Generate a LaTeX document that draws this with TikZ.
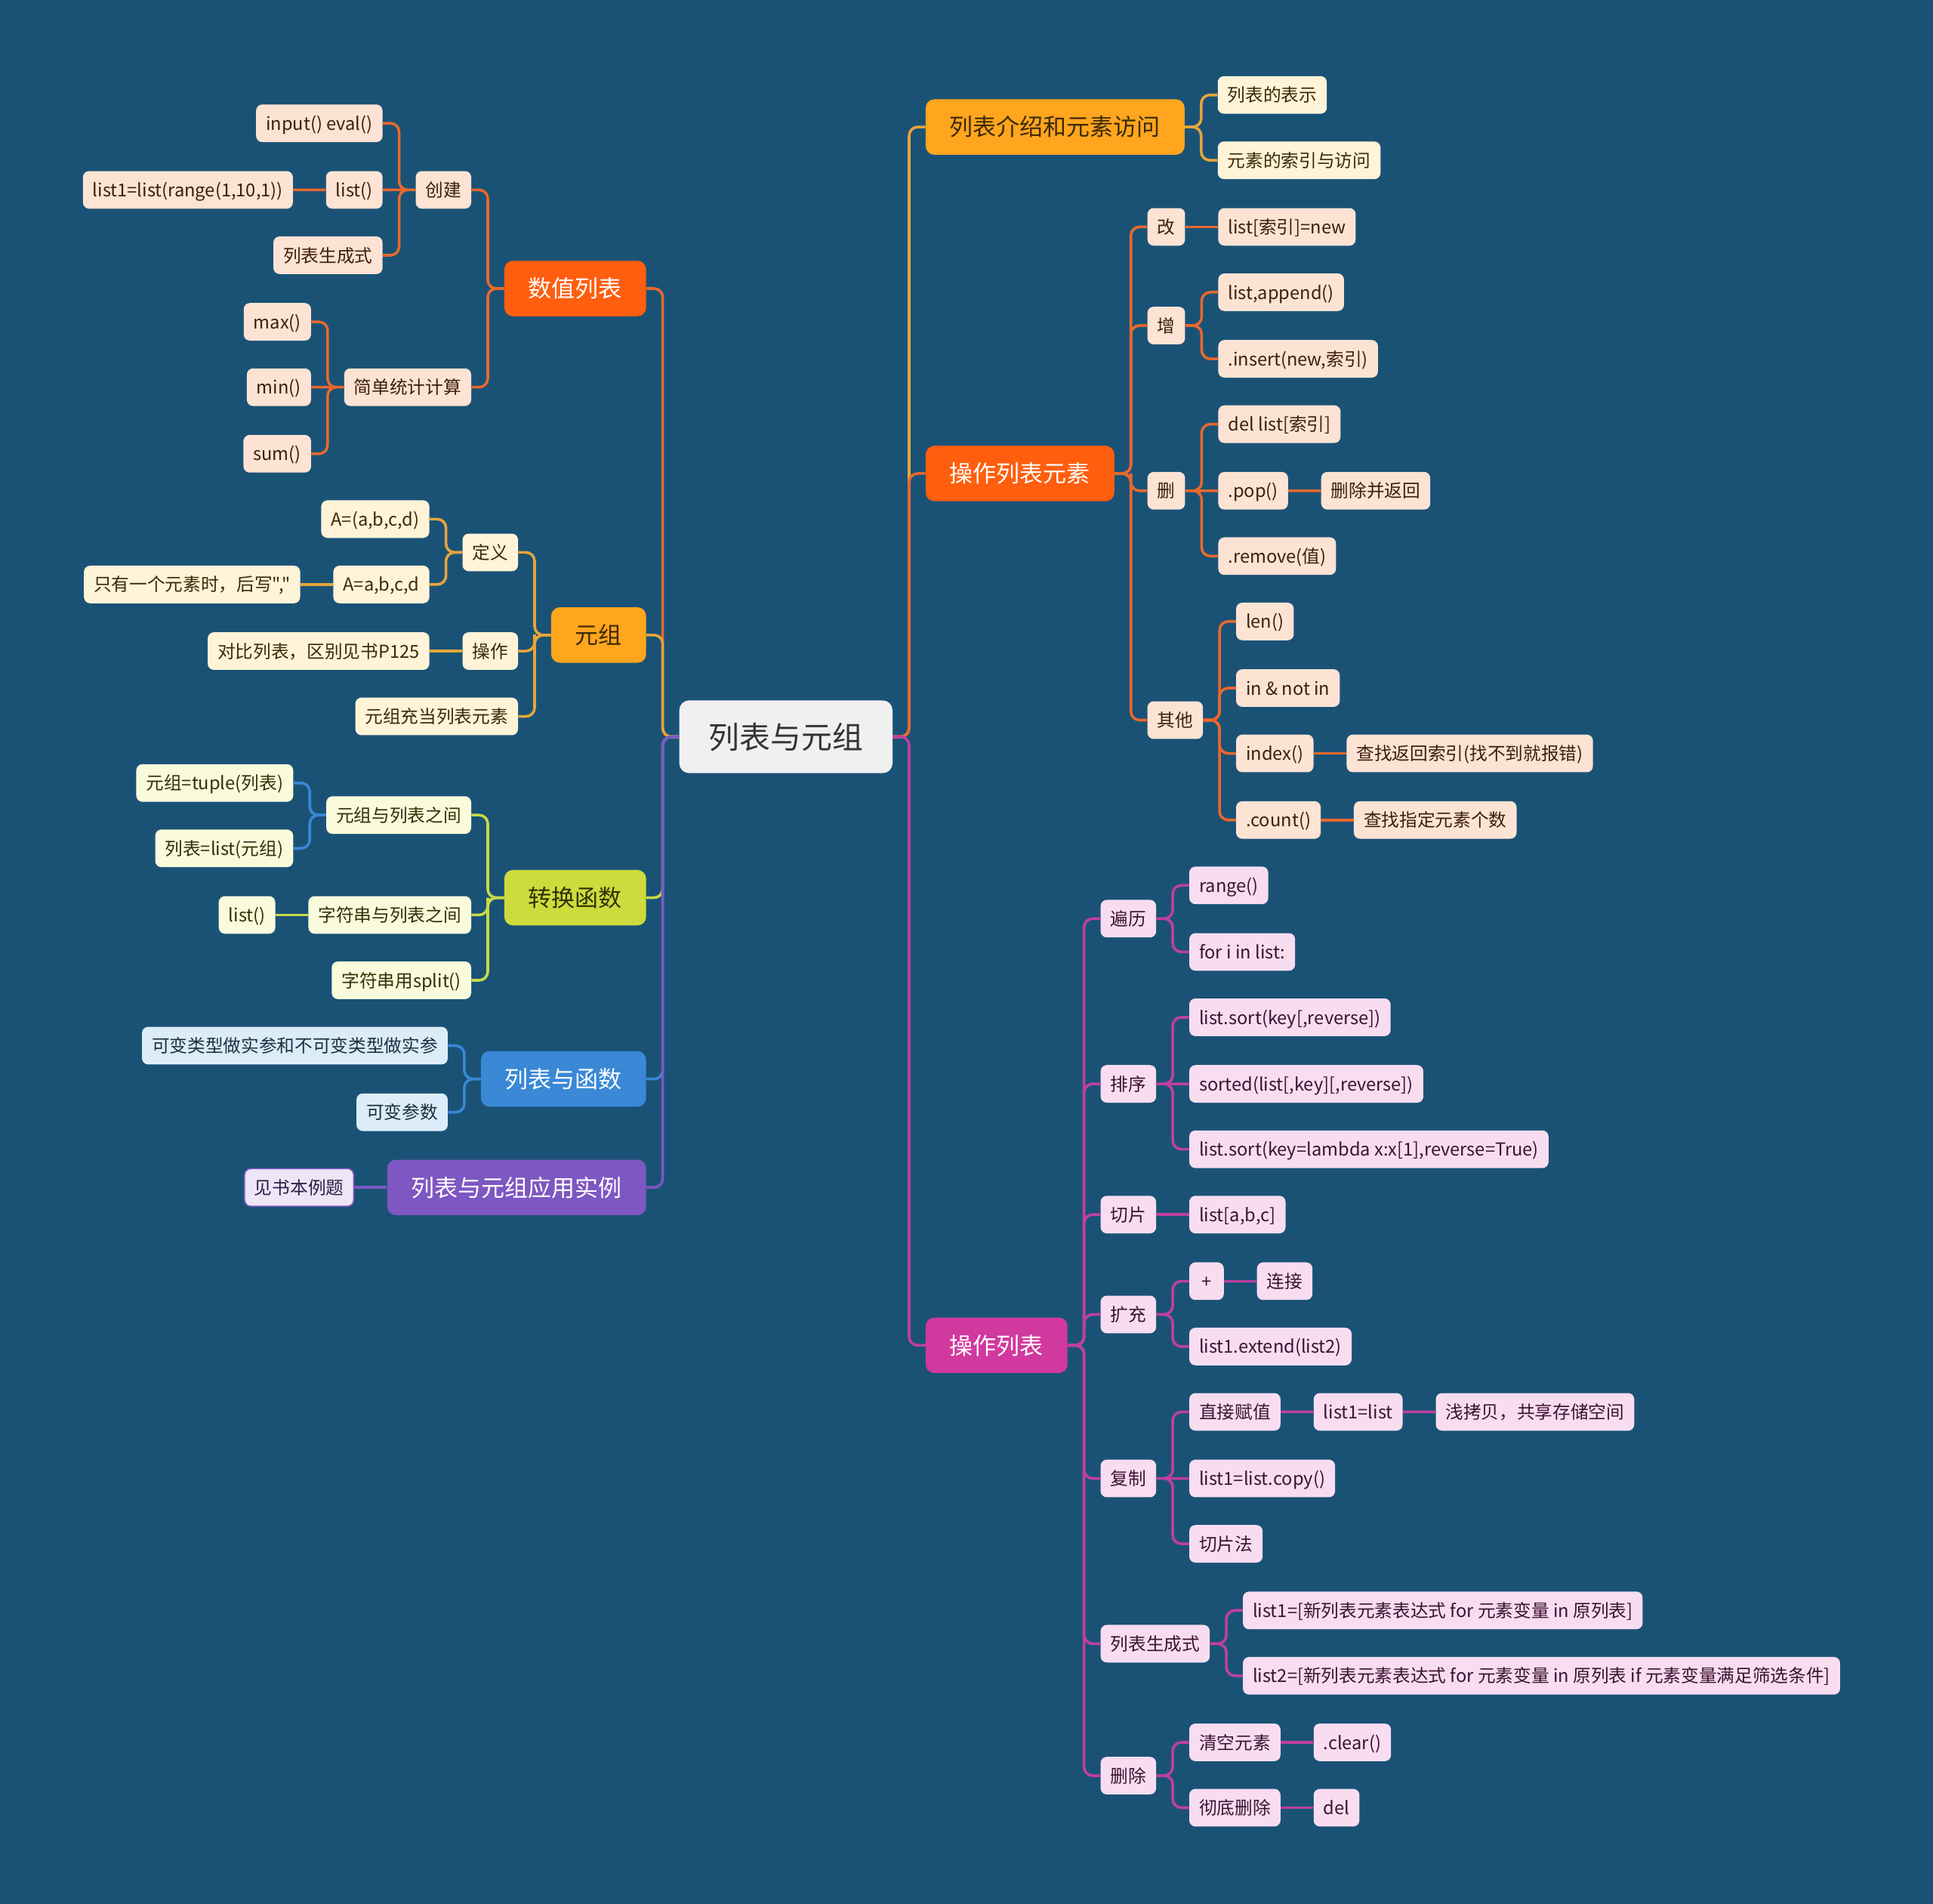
\documentclass[tikz,border=0pt]{standalone}
\usepackage{fontspec}
\setmainfont{Noto Sans CJK SC}[Ligatures=TeXOff]
\usetikzlibrary{calc,positioning}

\definecolor{bgc}{HTML}{1A5276}
\definecolor{rootc}{HTML}{F0F0F0}
\definecolor{rootx}{HTML}{333333}
% topic fills
\definecolor{topO}{HTML}{FF5E0E}
\definecolor{topA}{HTML}{FFA51E}
\definecolor{topL}{HTML}{CDDB3C}
\definecolor{topB}{HTML}{3A88D6}
\definecolor{topP}{HTML}{7E57C2}
\definecolor{topM}{HTML}{D1399F}
% connector colours
\definecolor{lnO}{HTML}{E8682E}
\definecolor{lnA}{HTML}{E6A53A}
\definecolor{lnL}{HTML}{C8DA46}
\definecolor{lnB}{HTML}{3A88D6}
\definecolor{lnP}{HTML}{7E57C2}
\definecolor{lnM}{HTML}{C03FA0}
% leaf fills and texts
\definecolor{fO}{HTML}{FDE3D3}
\definecolor{fA}{HTML}{FFF3D8}
\definecolor{fL}{HTML}{FAFBDC}
\definecolor{fB}{HTML}{DCEDF9}
\definecolor{fP}{HTML}{EEE6F7}
\definecolor{fM}{HTML}{F8DDF1}
\definecolor{xO}{HTML}{3D1F0E}
\definecolor{xA}{HTML}{3B2A06}
\definecolor{xL}{HTML}{2E3304}
\definecolor{xB}{HTML}{1E2F3F}
\definecolor{xP}{HTML}{2D1F45}
\definecolor{xM}{HTML}{3D1232}

\newcommand\leaffont{\fontsize{14.5pt}{17pt}\selectfont}
\newcommand\topicfont{\fontsize{19pt}{22pt}\selectfont}
\newcommand\rootfont{\fontsize{25pt}{30pt}\selectfont}

\begin{document}
\begin{tikzpicture}[
    x=1pt,y=-1pt,
    node distance=26.5pt,
    leaf/.style={rounded corners=5pt,inner xsep=8pt,inner ysep=0pt,
        minimum height=30.5pt,text height=12.8pt,text depth=1.7pt,font=\leaffont},
    lfO/.style={leaf,fill=fO,text=xO},
    lfA/.style={leaf,fill=fA,text=xA},
    lfL/.style={leaf,fill=fL,text=xL},
    lfB/.style={leaf,fill=fB,text=xB},
    lfP/.style={leaf,fill=fP,text=xP,draw=topP,line width=1pt},
    lfM/.style={leaf,fill=fM,text=xM},
    topic/.style={rounded corners=7pt,inner xsep=19.5pt,inner ysep=0pt,
        minimum height=45pt,text height=16.7pt,text depth=2.3pt,font=\topicfont},
    tpO/.style={topic,fill=topO,text=white},
    tpA/.style={topic,fill=topA,text=xA},
    tpL/.style={topic,fill=topL,text=xL},
    tpB/.style={topic,fill=topB,text=white},
    tpP/.style={topic,fill=topP,text=white},
    tpM/.style={topic,fill=topM,text=white},
    elbow/.style={to path={-| ($(\tikztostart)!.5!(\tikztotarget)$) |- (\tikztotarget)}},
    ln/.style={draw=#1,line width=2.2pt,rounded corners=7pt}
    ]
    \fill[bgc] (0,0) rectangle (1568,1544);
    \useasboundingbox (0,0) rectangle (1568,1544);

    \node[fill=rootc,text=rootx,rounded corners=8pt,inner xsep=24pt,inner ysep=0pt,
        minimum height=59pt,text height=22pt,text depth=3pt,font=\rootfont] (root) at (637.5,597.5) {列表与元组};

    % main topics
    \foreach \n/\y/\st/\lc/\txt in {num/234/tpO/lnO/数值列表,tup/515/tpA/lnA/元组,
        conv/728/tpL/lnL/转换函数,func/875/tpB/lnB/列表与函数,demo/963/tpP/lnP/列表与元组应用实例}{
        \node[\st,anchor=east] (\n) at ($(root.west |- 0,\y)+(-26.5,0)$) {\txt};
        \draw[ln=\lc] (root.west) to[elbow] (\n.east);
    }
    \foreach \n/\y/\st/\lc/\txt in {intro/103/tpA/lnA/列表介绍和元素访问,elem/384/tpO/lnO/操作列表元素,
        oper/1091/tpM/lnM/操作列表}{
        \node[\st,anchor=west] (\n) at ($(root.east |- 0,\y)+(26.5,0)$) {\txt};
        \draw[ln=\lc] (root.east) to[elbow] (\n.west);
    }

    % 数值列表
    \foreach \n/\y/\txt in {create/154/创建,stat/314/简单统计计算}{
        \node[lfO,anchor=east] (\n) at ($(num.west |- 0,\y)+(-26.5,0)$) {\txt};
        \draw[ln=lnO] (num.west) to[elbow] (\n.east);
    }
    \foreach \n/\y/\txt in {inev/100/input() eval(),lst/154/list(),gen/207/列表生成式}{
        \node[lfO,anchor=east] (\n) at ($(create.west |- 0,\y)+(-26.5,0)$) {\txt};
    }
    \node[lfO,left=of lst] (rng) {list1=list(range(1,10,1))};
    \draw[ln=lnO] (create.west) to[elbow] (inev.east) (create.west) to[elbow] (gen.east)
        (create.west) -- (lst.east) (lst.west) -- (rng.east);
    \foreach \n/\y/\txt in {mx/261/max(),mn/314/min(),sm/368/sum()}{
        \node[lfO,anchor=east] (\n) at ($(stat.west |- 0,\y)+(-26.5,0)$) {\txt};
    }
    \draw[ln=lnO] (stat.west) to[elbow] (mx.east) (stat.west) to[elbow] (sm.east) (stat.west) -- (mn.east);

    % 元组
    \foreach \n/\y/\txt in {def/448/定义,op/528/操作,asel/581/元组充当列表元素}{
        \node[lfA,anchor=east] (\n) at ($(tup.west |- 0,\y)+(-26.5,0)$) {\txt};
        \draw[ln=lnA] (tup.west) to[elbow] (\n.east);
    }
    \foreach \n/\y/\txt in {ab1/421/{A=(a,b,c,d)},ab2/474/{A=a,b,c,d}}{
        \node[lfA,anchor=east] (\n) at ($(def.west |- 0,\y)+(-26.5,0)$) {\txt};
        \draw[ln=lnA] (def.west) to[elbow] (\n.east);
    }
    \node[lfA,left=of ab2] (one) {只有一个元素时，后写","};
    \node[lfA,left=of op] (cmp) {对比列表，区别见书P125};
    \draw[ln=lnA] (ab2.west) -- (one.east) (op.west) -- (cmp.east);

    % 转换函数
    \foreach \n/\y/\txt in {tl/661/元组与列表之间,sl/742/字符串与列表之间,spl/795/字符串用split()}{
        \node[lfL,anchor=east] (\n) at ($(conv.west |- 0,\y)+(-26.5,0)$) {\txt};
        \draw[ln=lnL] (conv.west) to[elbow] (\n.east);
    }
    \foreach \n/\y/\txt in {t2l/635/元组=tuple(列表),l2t/688/列表=list(元组)}{
        \node[lfL,anchor=east] (\n) at ($(tl.west |- 0,\y)+(-26.5,0)$) {\txt};
        \draw[ln=lnB] (tl.west) to[elbow] (\n.east);
    }
    \node[lfL,left=of sl] (lfun) {list()};
    \draw[ln=lnL] (sl.west) -- (lfun.east);

    % 列表与函数, 应用实例
    \foreach \n/\y/\txt in {mut/848/可变类型做实参和不可变类型做实参,var/902/可变参数}{
        \node[lfB,anchor=east] (\n) at ($(func.west |- 0,\y)+(-26.5,0)$) {\txt};
        \draw[ln=lnB] (func.west) to[elbow] (\n.east);
    }
    \node[lfP,left=of demo] (book) {见书本例题};
    \draw[ln=lnP] (demo.west) -- (book.east);

    % 列表介绍和元素访问
    \foreach \n/\y/\txt in {rep/77/列表的表示,acc/130/元素的索引与访问}{
        \node[lfA,anchor=west] (\n) at ($(intro.east |- 0,\y)+(26.5,0)$) {\txt};
        \draw[ln=lnA] (intro.east) to[elbow] (\n.west);
    }

    % 操作列表元素
    \foreach \n/\y/\txt in {gai/184/改,zeng/264/增,shan/398/删,qt/584/其他}{
        \node[lfO,anchor=west] (\n) at ($(elem.east |- 0,\y)+(26.5,0)$) {\txt};
        \draw[ln=lnO] (elem.east) to[elbow] (\n.west);
    }
    \node[lfO,right=of gai] (setv) {list[索引]=new};
    \draw[ln=lnO] (gai.east) -- (setv.west);
    \foreach \n/\y/\txt in {app/237/{list,append()},ins/291/{.insert(new,索引)}}{
        \node[lfO,anchor=west] (\n) at ($(zeng.east |- 0,\y)+(26.5,0)$) {\txt};
        \draw[ln=lnO] (zeng.east) to[elbow] (\n.west);
    }
    \foreach \n/\y/\txt in {dl/344/{del list[索引]},pop/398/.pop(),rem/451/.remove(值)}{
        \node[lfO,anchor=west] (\n) at ($(shan.east |- 0,\y)+(26.5,0)$) {\txt};
    }
    \node[lfO,right=of pop] (popr) {删除并返回};
    \draw[ln=lnO] (shan.east) to[elbow] (dl.west) (shan.east) to[elbow] (rem.west)
        (shan.east) -- (pop.west) (pop.east) -- (popr.west);
    \foreach \n/\y/\txt in {len/504/len(),inn/558/{in \& not in},ix/611/index(),cnt/665/.count()}{
        \node[lfO,anchor=west] (\n) at ($(qt.east |- 0,\y)+(26.5,0)$) {\txt};
        \draw[ln=lnO] (qt.east) to[elbow] (\n.west);
    }
    \node[lfO,right=of ix] (ixr) {查找返回索引(找不到就报错)};
    \node[lfO,right=of cnt] (cntr) {查找指定元素个数};
    \draw[ln=lnO] (ix.east) -- (ixr.west) (cnt.east) -- (cntr.west);

    % 操作列表
    \foreach \n/\y/\txt in {trav/745/遍历,srt/879/排序,slc/985/切片,ext/1066/扩充,cp/1199/复制,
        comp/1333/列表生成式,dele/1440/删除}{
        \node[lfM,anchor=west] (\n) at ($(oper.east |- 0,\y)+(26.5,0)$) {\txt};
        \draw[ln=lnM] (oper.east) to[elbow] (\n.west);
    }
    \foreach \n/\y/\txt in {rg/718/range(),fr/772/for i in list:}{
        \node[lfM,anchor=west] (\n) at ($(trav.east |- 0,\y)+(26.5,0)$) {\txt};
        \draw[ln=lnM] (trav.east) to[elbow] (\n.west);
    }
    \foreach \n/\y/\txt in {s1/825/{list.sort(key[,reverse])},s2/879/{sorted(list[,key][,reverse])},
        s3/932/{list.sort(key=lambda x:x[1],reverse=True)}}{
        \node[lfM,anchor=west] (\n) at ($(srt.east |- 0,\y)+(26.5,0)$) {\txt};
    }
    \draw[ln=lnM] (srt.east) to[elbow] (s1.west) (srt.east) to[elbow] (s3.west) (srt.east) -- (s2.west);
    \node[lfM,right=of slc] (sab) {list[a,b,c]};
    \draw[ln=lnM] (slc.east) -- (sab.west);
    \foreach \n/\y/\txt in {plus/1039/+,extd/1092/list1.extend(list2)}{
        \node[lfM,anchor=west,minimum width=28pt] (\n) at ($(ext.east |- 0,\y)+(26.5,0)$) {\txt};
        \draw[ln=lnM] (ext.east) to[elbow] (\n.west);
    }
    \node[lfM,right=of plus] (jn) {连接};
    \draw[ln=lnM] (plus.east) -- (jn.west);
    \foreach \n/\y/\txt in {direct/1145/直接赋值,cpy/1199/list1=list.copy(),slm/1252/切片法}{
        \node[lfM,anchor=west] (\n) at ($(cp.east |- 0,\y)+(26.5,0)$) {\txt};
    }
    \node[lfM,right=of direct] (asg) {list1=list};
    \node[lfM,right=of asg] (shallow) {浅拷贝，共享存储空间};
    \draw[ln=lnM] (cp.east) to[elbow] (direct.west) (cp.east) to[elbow] (slm.west) (cp.east) -- (cpy.west)
        (direct.east) -- (asg.west) (asg.east) -- (shallow.west);
    \foreach \n/\y/\txt in {c1/1306/{list1=[新列表元素表达式 for 元素变量 in 原列表]},
        c2/1359/{list2=[新列表元素表达式 for 元素变量 in 原列表 if 元素变量满足筛选条件]}}{
        \node[lfM,anchor=west] (\n) at ($(comp.east |- 0,\y)+(26.5,0)$) {\txt};
        \draw[ln=lnM] (comp.east) to[elbow] (\n.west);
    }
    \foreach \n/\y/\txt in {clr/1413/清空元素,dd/1466/彻底删除}{
        \node[lfM,anchor=west] (\n) at ($(dele.east |- 0,\y)+(26.5,0)$) {\txt};
        \draw[ln=lnM] (dele.east) to[elbow] (\n.west);
    }
    \node[lfM,right=of clr] (clrf) {.clear()};
    \node[lfM,right=of dd] (ddel) {del};
    \draw[ln=lnM] (clr.east) -- (clrf.west) (dd.east) -- (ddel.west);
\end{tikzpicture}
\end{document}
